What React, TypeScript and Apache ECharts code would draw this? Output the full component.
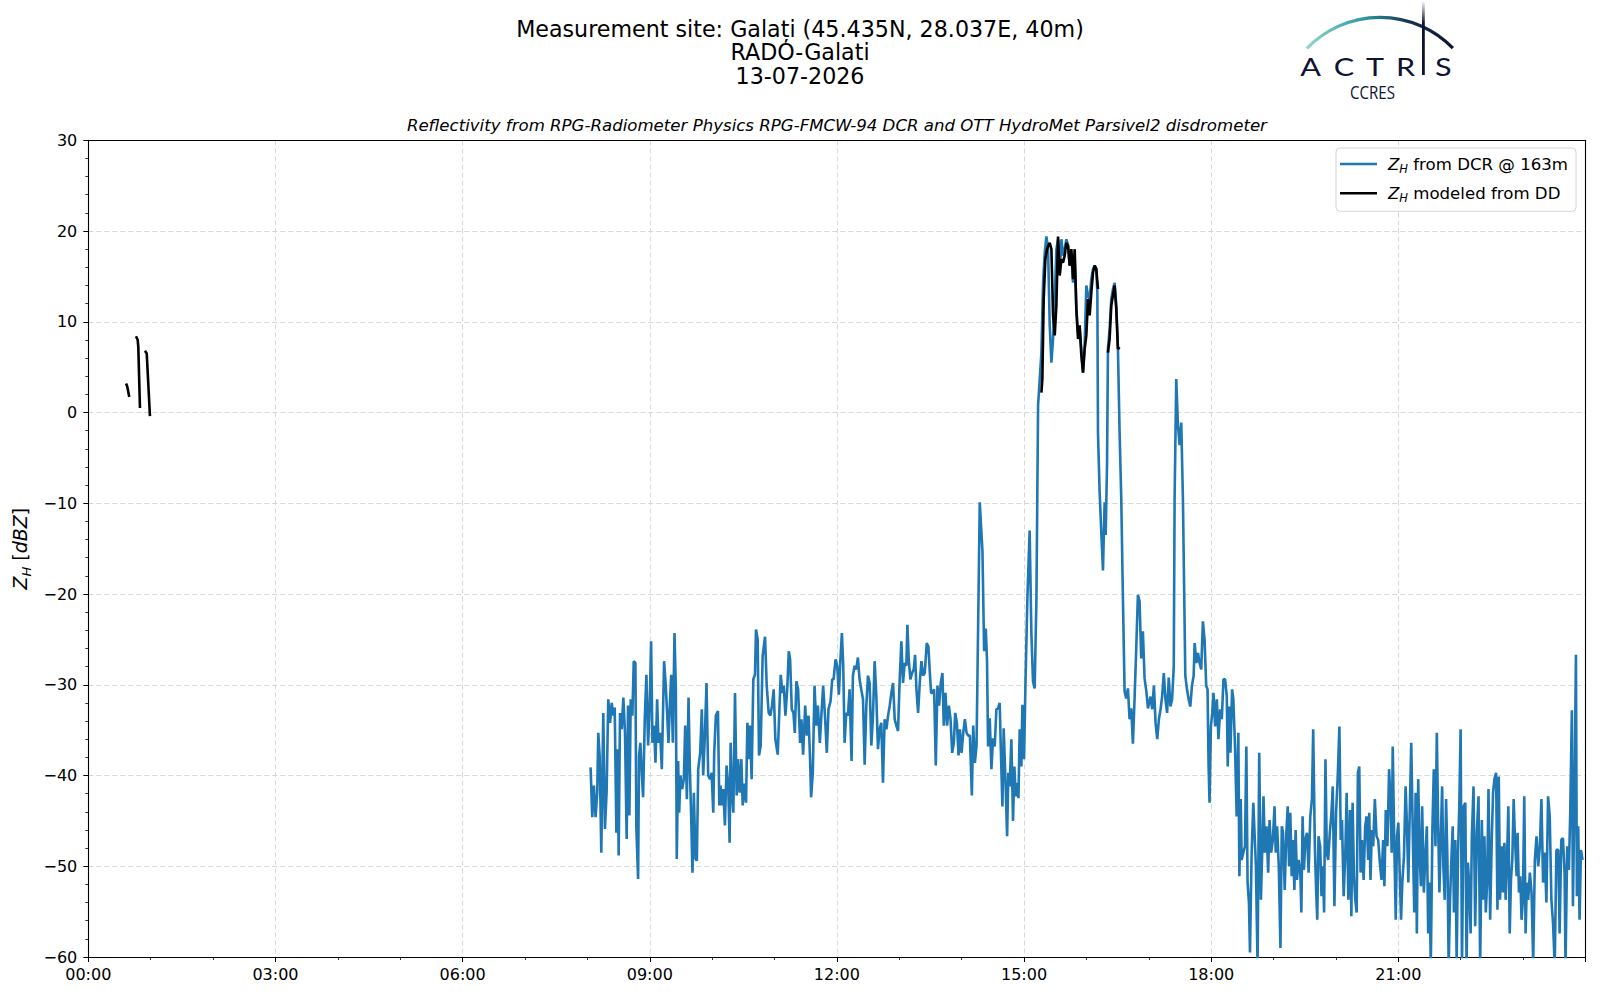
import React, { useEffect, useRef } from 'react';
import * as echarts from 'echarts';

// time in minutes of day, reflectivity in dBZ
const dcrMorning: [number, number][] = [
[483.1,-39.1],[484.7,-44.6],[486.3,-41.1],[487.9,-44.6],[489.5,-41.9],[490.5,-35.3],[491.8,-37.8],[493.4,-48.5],[495.3,-33.1],[496.9,-45.9],[498.5,-41.9],[500.1,-31.6],[501.8,-34.2],[503.4,-32.0],[505.0,-33.4],[506.3,-32.5],[507.9,-46.3],[509.1,-37.1],[510.1,-48.8],[511.4,-33.1],[513.0,-34.9],[514.6,-31.4],[516.2,-35.3],[517.8,-47.0],[519.1,-32.3],[520.4,-44.4],[521.7,-31.6],[523.3,-33.4],[524.6,-27.4],[526.2,-27.6],[527.1,-45.7],[528.8,-51.4],[529.7,-37.8],[531.0,-36.4],[532.3,-39.7],[533.6,-42.4],[535.2,-33.8],[536.8,-28.9],[538.4,-36.7],[540.0,-32.0],[541.3,-25.2],[542.6,-36.4],[544.2,-34.5],[545.5,-38.6],[547.1,-31.6],[548.4,-36.4],[550.0,-35.3],[551.6,-39.3],[553.8,-27.4],[555.4,-30.1],[556.7,-33.1],[558.0,-36.4],[559.3,-32.3],[560.6,-28.9],[562.2,-36.4],[563.8,-24.3],[565.1,-30.5],[566.0,-49.2],[567.3,-38.4],[568.3,-44.1],[569.6,-40.0],[571.2,-41.5],[572.8,-40.4],[574.1,-34.5],[575.7,-42.6],[577.3,-31.4],[578.6,-39.3],[579.9,-44.8],[581.1,-50.7],[582.4,-41.9],[584.0,-49.2],[585.3,-49.4],[586.6,-39.3],[588.5,-37.5],[590.1,-32.7],[591.4,-40.0],[593.0,-35.6],[594.6,-29.8],[596.2,-40.0],[597.9,-40.4],[599.5,-39.7],[601.1,-44.1],[602.0,-37.5],[603.6,-33.4],[605.6,-32.9],[606.9,-43.3],[608.1,-41.1],[609.4,-43.3],[610.7,-41.5],[612.3,-45.5],[613.9,-38.9],[615.5,-41.1],[616.8,-47.4],[617.8,-36.4],[619.1,-41.9],[620.4,-44.1],[622.0,-30.9],[623.6,-42.2],[624.9,-38.2],[626.5,-41.9],[628.1,-38.2],[629.4,-43.3],[631.0,-40.9],[632.6,-43.0],[633.9,-34.2],[635.1,-38.2],[636.4,-34.5],[638.0,-40.4],[639.6,-29.4],[641.2,-28.9],[642.2,-23.9],[643.8,-25.0],[645.1,-37.8],[646.7,-36.7],[648.6,-26.8],[650.9,-24.7],[652.5,-30.1],[654.4,-33.1],[656.0,-33.4],[657.6,-32.3],[659.2,-30.5],[660.8,-36.0],[663.1,-37.7],[664.7,-32.7],[666.0,-28.9],[667.6,-30.9],[668.9,-30.1],[670.5,-33.4],[672.4,-30.1],[673.7,-26.3],[675.0,-27.2],[676.6,-32.7],[678.2,-33.1],[679.5,-35.3],[681.1,-29.6],[682.7,-30.5],[684.6,-36.4],[685.9,-33.8],[687.5,-37.7],[689.5,-32.3],[691.1,-35.6],[692.7,-33.4],[694.3,-38.6],[695.2,-42.4],[696.8,-39.7],[698.5,-30.1],[700.1,-34.5],[701.7,-32.3],[703.6,-36.4],[705.2,-33.1],[706.8,-30.1],[708.7,-33.8],[710.3,-37.5],[711.9,-32.7],[713.9,-31.8],[715.5,-29.4],[716.8,-29.4],[718.7,-27.2],[720.3,-27.9],[721.9,-31.1],[723.2,-27.6],[724.8,-24.3],[726.1,-27.9],[727.4,-36.4],[729.0,-33.1],[730.6,-33.4],[732.2,-30.5],[734.1,-38.4],[735.4,-29.0],[737.0,-27.9],[738.6,-28.3],[740.2,-27.0],[741.8,-29.4],[743.4,-30.5],[745.1,-31.6],[746.7,-38.8],[748.3,-32.3],[749.9,-29.0],[751.5,-29.8],[753.1,-36.7],[754.7,-33.4],[756.3,-27.4],[757.9,-31.2],[759.5,-37.1],[761.1,-34.9],[762.7,-34.2],[764.3,-40.8],[765.9,-33.8],[767.6,-34.9],[769.2,-33.4],[770.8,-32.3],[772.4,-30.9],[774.0,-29.8],[775.6,-33.8],[777.2,-34.5],[778.8,-35.1],[780.4,-29.4],[782.0,-25.2],[783.6,-29.8],[785.2,-27.6],[786.8,-27.9],[787.8,-23.4],[789.1,-27.2],[790.7,-29.4],[792.3,-28.7],[793.9,-28.3],[795.2,-26.7],[796.5,-30.5],[798.1,-33.1],[799.7,-29.8],[801.3,-27.4],[802.9,-29.0],[804.5,-28.7],[806.4,-25.4],[808.0,-25.8],[809.3,-28.5],[810.6,-30.9],[811.9,-30.9],[813.5,-30.5],[815.1,-38.9],[816.7,-30.1],[818.3,-32.3],[819.9,-29.8],[821.5,-28.7],[822.8,-34.5],[824.4,-30.9],[826.0,-34.5],[827.7,-32.3],[829.3,-33.8],[830.9,-37.5],[832.5,-36.4],[833.8,-33.1],[835.4,-34.2],[837.0,-37.8],[838.3,-34.9],[839.9,-37.5],[841.5,-35.3],[843.1,-33.8],[844.7,-35.3],[846.3,-35.6],[847.9,-35.6],[849.8,-42.2],[851.1,-34.5],[852.7,-38.6],[854.3,-36.7]
];

const dcrAfternoon: [number, number][] = [
[857.4,-9.9],[860.0,-15.3],[861.6,-26.3],[863.2,-23.8],[864.4,-27.4],[865.4,-36.8],[867.0,-33.7],[868.6,-39.3],[870.2,-35.9],[871.8,-36.8],[873.4,-32.7],[875.0,-32.6],[876.6,-32.0],[877.6,-36.8],[879.2,-43.4],[880.4,-34.8],[882.4,-41.5],[883.7,-46.7],[884.9,-39.7],[886.2,-41.2],[887.8,-36.0],[889.4,-45.0],[890.7,-39.0],[892.0,-42.3],[893.3,-40.8],[894.6,-42.5],[895.8,-34.9],[897.4,-39.0],[898.4,-32.2],[900.0,-38.2],[901.3,-30.2],[903.2,-20.5],[905.4,-13.0],[907.0,-24.1],[908.6,-29.6],[910.2,-30.4],[911.9,-20.5],[913.5,0.8],[915.1,3.7],[916.7,6.6],[918.3,14.3],[919.9,17.6],[921.5,19.4],[923.1,18.0],[924.7,9.6],[926.3,5.5],[927.9,8.1],[929.5,12.5],[931.1,18.0],[932.7,19.1],[934.3,15.4],[935.9,19.1],[937.5,17.3],[939.1,18.0],[940.7,19.1],[942.3,18.4],[943.9,16.2],[945.5,17.6],[947.1,14.3],[948.7,17.3],[950.3,11.4],[951.9,8.8],[953.5,9.2],[955.1,7.0],[956.7,4.4],[958.3,7.4],[959.9,14.0],[961.5,12.9],[963.1,12.5],[964.7,14.7],[966.3,15.8],[967.9,16.2],[969.5,15.8],[970.5,13.2],[971.1,-2.2],[972.7,-8.8],[974.3,-13.2],[975.9,-17.4],[977.5,-9.9],[978.5,-13.5],[979.8,-5.8],[980.7,7.0],[982.3,9.2],[983.9,12.5],[985.5,13.6],[987.1,14.3],[988.7,11.8],[990.3,7.0],[991.9,-2.2],[993.5,-9.5],[995.1,-20.5],[996.7,-30.7],[998.3,-31.5],[999.9,-30.4],[1001.5,-33.8],[1003.1,-32.6],[1004.7,-36.5],[1006.3,-31.5],[1007.9,-26.0],[1009.5,-20.1],[1011.1,-20.8],[1012.7,-27.1],[1014.3,-24.1],[1015.9,-29.3],[1017.6,-30.7],[1019.2,-32.6],[1021.7,-31.3],[1023.3,-32.7],[1024.9,-30.1],[1026.5,-34.2],[1028.1,-36.0],[1029.7,-33.8],[1031.3,-32.7],[1032.8,-31.3],[1034.4,-28.7],[1036.0,-31.6],[1037.6,-33.1],[1039.2,-29.2],[1040.8,-32.4],[1042.4,-31.6],[1044.0,-28.0],[1044.8,-9.5],[1046.4,3.7],[1048.0,-1.4],[1049.6,-3.6],[1051.2,-1.1],[1052.8,-9.5]
];

const dcrEvening: [number, number][] = [
[1055.1,-29.0],[1056.7,-30.5],[1058.3,-31.6],[1059.9,-32.4],[1061.5,-30.1],[1063.1,-29.0],[1064.1,-25.4],[1065.7,-27.6],[1067.3,-26.5],[1068.8,-27.6],[1070.4,-28.3],[1072.0,-23.0],[1073.6,-25.0],[1075.2,-30.1],[1076.5,-30.5],[1077.5,-39.0],[1078.4,-43.0],[1079.7,-34.6],[1081.0,-33.1],[1082.2,-30.9],[1083.8,-34.6],[1085.4,-31.6],[1087.0,-36.0],[1088.6,-32.7],[1090.2,-33.8],[1091.8,-29.4],[1093.4,-29.4],[1095.0,-31.3],[1095.9,-39.0],[1097.2,-32.4],[1098.5,-37.5],[1100.1,-30.5],[1101.3,-31.6],[1102.9,-36.8],[1104.5,-44.5],[1106.1,-35.3],[1107.1,-51.1],[1108.4,-42.6],[1109.3,-49.3],[1110.9,-48.5],[1112.5,-47.8],[1113.8,-36.8],[1115.0,-51.8],[1116.3,-54.0],[1117.3,-59.5],[1118.9,-48.5],[1120.5,-43.0],[1121.7,-46.3],[1123.0,-50.0],[1124.6,-61.0],[1126.2,-37.5],[1127.8,-53.7],[1129.1,-48.2],[1130.3,-42.3],[1131.6,-48.5],[1133.2,-45.6],[1134.8,-50.7],[1136.1,-44.9],[1137.7,-48.5],[1139.3,-47.1],[1140.9,-43.4],[1142.1,-48.5],[1143.4,-45.6],[1145.0,-50.0],[1146.6,-59.0],[1147.9,-45.6],[1149.1,-46.3],[1150.7,-52.6],[1152.3,-46.3],[1153.6,-43.4],[1154.9,-50.0],[1156.1,-44.1],[1157.4,-51.1],[1158.7,-47.1],[1160.0,-52.6],[1161.2,-46.0],[1162.5,-51.5],[1164.1,-49.3],[1165.7,-50.7],[1166.7,-55.1],[1167.9,-44.5],[1169.2,-50.4],[1170.5,-47.1],[1172.1,-46.3],[1173.7,-50.7],[1175.3,-44.5],[1176.9,-42.6],[1178.1,-34.9],[1179.7,-47.8],[1181.0,-52.9],[1182.0,-55.9],[1183.2,-46.7],[1184.8,-47.8],[1186.1,-53.3],[1187.4,-50.0],[1188.6,-55.1],[1189.9,-38.2],[1191.2,-48.5],[1192.5,-49.3],[1194.1,-46.3],[1195.7,-44.1],[1196.9,-41.2],[1198.5,-54.4],[1200.1,-44.1],[1201.7,-40.1],[1203.3,-34.6],[1204.6,-47.1],[1205.8,-44.9],[1207.4,-53.3],[1209.0,-48.5],[1210.3,-41.9],[1211.9,-53.7],[1213.5,-43.8],[1214.8,-55.5],[1216.0,-43.0],[1217.3,-51.1],[1218.6,-53.7],[1219.9,-55.1],[1221.1,-39.7],[1222.4,-39.0],[1223.7,-50.7],[1225.0,-47.1],[1226.6,-51.5],[1228.1,-45.6],[1229.4,-44.5],[1231.0,-49.3],[1232.0,-44.1],[1233.2,-51.5],[1234.5,-46.0],[1235.8,-47.8],[1237.4,-42.6],[1239.0,-46.7],[1240.6,-47.1],[1242.2,-49.6],[1243.8,-51.5],[1245.4,-47.1],[1246.6,-52.2],[1247.9,-43.8],[1249.5,-47.8],[1251.1,-39.3],[1252.4,-42.6],[1253.6,-48.5],[1254.6,-36.8],[1255.9,-46.3],[1257.5,-55.9],[1258.7,-46.7],[1260.0,-45.2],[1261.3,-50.7],[1262.6,-55.9],[1263.8,-51.8],[1265.4,-48.9],[1267.0,-41.2],[1268.3,-45.6],[1269.6,-51.8],[1270.8,-44.9],[1272.4,-36.4],[1274.0,-47.1],[1275.3,-55.1],[1276.6,-41.9],[1277.8,-57.4],[1279.1,-40.4],[1280.4,-48.5],[1281.7,-52.2],[1282.9,-43.4],[1284.5,-52.9],[1286.1,-48.5],[1287.4,-45.6],[1288.7,-57.4],[1290.0,-51.8],[1291.2,-61.0],[1292.8,-45.6],[1294.1,-39.3],[1295.7,-47.8],[1297.0,-35.3],[1298.3,-45.6],[1299.5,-52.9],[1300.8,-47.1],[1302.1,-41.2],[1303.3,-50.0],[1304.6,-53.7],[1305.9,-42.6],[1307.2,-49.3],[1308.4,-61.0],[1309.7,-53.7],[1311.0,-49.3],[1312.3,-45.6],[1313.5,-55.1],[1314.8,-47.1],[1316.1,-60.5],[1317.4,-48.5],[1318.6,-43.4],[1319.9,-34.9],[1321.2,-61.0],[1322.8,-43.4],[1324.4,-43.0],[1325.6,-61.0],[1326.9,-49.6],[1328.2,-52.2],[1329.5,-57.4],[1330.7,-46.7],[1332.3,-41.2],[1333.9,-56.6],[1335.5,-46.3],[1337.1,-42.3],[1338.7,-61.0],[1340.3,-44.9],[1341.6,-53.7],[1342.8,-46.7],[1344.1,-55.1],[1345.4,-51.8],[1346.7,-41.5],[1348.3,-55.9],[1349.9,-46.7],[1351.1,-41.9],[1352.4,-40.4],[1354.0,-39.7],[1355.3,-54.8],[1356.6,-40.1],[1357.8,-53.7],[1359.4,-47.8],[1360.7,-52.9],[1362.0,-47.4],[1363.2,-53.7],[1364.5,-49.3],[1365.8,-43.4],[1367.1,-57.4],[1368.3,-51.5],[1369.6,-49.3],[1370.9,-42.6],[1372.2,-47.1],[1373.8,-51.1],[1374.7,-46.3],[1376.0,-52.9],[1377.3,-51.1],[1378.5,-55.9],[1379.8,-53.7],[1381.1,-42.3],[1382.4,-57.4],[1383.6,-51.8],[1384.9,-53.7],[1386.5,-50.7],[1388.1,-52.9],[1389.7,-60.5],[1391.3,-49.3],[1392.9,-46.7],[1394.5,-50.0],[1396.1,-47.8],[1397.6,-42.6],[1399.2,-51.8],[1400.8,-48.5],[1402.4,-54.0],[1404.0,-42.3],[1405.6,-44.5],[1407.2,-53.7],[1408.8,-56.3],[1410.4,-61.0],[1412.0,-48.2],[1413.8,-48.2],[1415.1,-57.4],[1416.7,-47.1],[1418.3,-46.9],[1419.9,-50.8],[1420.8,-61.0],[1422.4,-47.8],[1424.0,-50.4],[1425.3,-44.2],[1426.9,-32.8],[1427.9,-54.4],[1429.5,-41.2],[1430.8,-26.7],[1431.7,-53.3],[1433.0,-45.6],[1434.3,-55.9],[1435.6,-48.2],[1437.2,-49.3]
];

// disdrometer-modelled reflectivity; null marks a gap
const ddEarly: [number, number | null][] = [
[36.3,3.2],[37.4,2.9],[39.4,1.7],[42.0,null],
[45.9,8.4],[47.5,8.0],[48.1,7.2],[49.7,0.5],[52.0,null],
[54.5,6.8],[56.2,6.5],[59.3,-0.4],[200,null]
];

const ddMain: [number, number | null][] = [
[916.7,2.2],[917.6,3.7],[918.9,12.5],[920.5,16.9],[922.1,18.0],[923.4,18.4],[924.7,18.7],[926.3,18.0],[927.9,10.7],[929.5,8.5],[931.1,11.8],[932.7,19.4],[934.3,15.1],[935.9,16.9],[937.5,16.5],[939.1,17.3],[940.7,18.7],[942.3,18.4],[943.9,16.2],[945.5,18.0],[947.1,14.7],[948.7,18.0],[950.3,11.4],[951.9,8.1],[953.5,9.6],[955.1,6.3],[956.7,4.4],[958.3,7.0],[959.9,8.5],[961.5,12.5],[963.1,10.7],[964.7,13.2],[966.3,15.4],[967.9,16.2],[969.5,15.8],[971.1,13.6],[976.0,null],
[980.7,6.6],[982.3,8.1],[983.9,11.8],[985.5,12.9],[987.1,14.0],[988.7,11.4],[990.3,7.0],[991.9,7.2]
];

const xTickLabels = ['00:00', '03:00', '06:00', '09:00', '12:00', '15:00', '18:00', '21:00'];
const titleLines = ['Measurement site: Galați (45.435N, 28.037E, 40m)', 'RADO-Galati', '13-07-2026'];
const subTitle = 'Reflectivity from RPG-Radiometer Physics RPG-FMCW-94 DCR and OTT HydroMet Parsivel2 disdrometer';

const FONT = 'DejaVu Sans';
const NAVY = '#0d1333';

function buildOption() {
  const dcr = [...dcrMorning, ...dcrAfternoon, ...dcrEvening];
  const dd = [...ddEarly, ...ddMain].map(([t, v]) => [t, v === null ? '-' : v]);

  const LF = 16.6;
  const richZ = {
    z: { fontStyle: 'italic', fontSize: LF, fontFamily: FONT, color: '#000', lineHeight: 22 },
    h: { fontStyle: 'italic', fontSize: 11.5, fontFamily: FONT, color: '#000', lineHeight: 11, verticalAlign: 'bottom' },
    t: { fontSize: LF, fontFamily: FONT, color: '#000', lineHeight: 22 },
    sp: { width: 6, fontSize: LF, lineHeight: 22 },
  };

  const logoLetters = [
    { ch: 'A', x: 1310.7 },
    { ch: 'C', x: 1344 },
    { ch: 'T', x: 1375 },
    { ch: 'R', x: 1405.5 },
    { ch: 'S', x: 1443.3 },
  ];

  const graphic: any[] = [
    ...titleLines.map((t, i) => ({
      type: 'text', x: 800, y: [28.6, 52, 75.5][i], silent: true,
      style: { text: t, fill: '#000', fontSize: 22.2, fontFamily: FONT, align: 'center', verticalAlign: 'middle' },
    })),
    {
      type: 'text', x: 836.9, y: 125.5, silent: true,
      style: { text: subTitle, fill: '#000', fontSize: 16.6, fontStyle: 'italic', fontFamily: FONT, align: 'center', verticalAlign: 'middle' },
    },
    {
      type: 'arc', silent: true,
      shape: { cx: 1380, cy: 118.8, r: 101.5, startAngle: -2.375, endAngle: -0.77, clockwise: true },
      style: {
        fill: 'none', lineWidth: 3.2,
        stroke: new echarts.graphic.LinearGradient(0, 0, 1, 0, [
          { offset: 0, color: '#8fd6cf' },
          { offset: 0.4, color: '#2a96a0' },
          { offset: 0.7, color: '#163150' },
          { offset: 1, color: NAVY },
        ]),
      },
    },
    {
      type: 'rect', silent: true,
      shape: { x: 1422, y: 1, width: 2.8, height: 74 },
      style: {
        fill: new echarts.graphic.LinearGradient(0, 0, 0, 1, [
          { offset: 0, color: 'rgba(13,19,51,0)' },
          { offset: 0.3, color: NAVY },
          { offset: 1, color: NAVY },
        ]),
      },
    },
    ...logoLetters.map((l) => ({
      type: 'text', x: l.x, y: 66.3, scaleX: 1.2, silent: true,
      style: { text: l.ch, fill: NAVY, fontSize: 25.5, fontWeight: 'normal', fontFamily: 'Lato', align: 'center', verticalAlign: 'middle' },
    })),
    {
      type: 'text', x: 1372.5, y: 92.4, scaleX: 0.86, silent: true,
      style: { text: 'CCRES', fill: NAVY, fontSize: 17.5, fontFamily: 'Open Sans', align: 'center', verticalAlign: 'middle' },
    },
  ];

  const splitLine = { show: true, lineStyle: { color: '#d2d2d2', type: [5, 3], width: 0.9 } };
  const frameLine = { show: true, onZero: false, lineStyle: { color: '#000', width: 1.1 } };

  return {
    animation: false,
    backgroundColor: '#ffffff',
    grid: { left: 88.3, top: 140.3, right: 14.5, bottom: 43, containLabel: false },
    legend: {
      left: 1336, top: 148, orient: 'vertical',
      icon: 'rect', itemWidth: 37, itemHeight: 2.5, itemGap: 7.3,
      padding: [5, 8, 7, 4],
      borderColor: '#d5d5d5', borderWidth: 1, borderRadius: 4,
      backgroundColor: 'rgba(255,255,255,0.8)',
      textStyle: { fontSize: LF, fontFamily: FONT, color: '#000', lineHeight: 22, rich: richZ },
      formatter: (name: string) =>
        name === 'dcr'
          ? '{sp| }{z|Z}{h|H}{t| from DCR @ 163m}'
          : '{sp| }{z|Z}{h|H}{t| modeled from DD}',
      data: ['dcr', 'dd'],
    },
    xAxis: [
      {
        type: 'value', min: 0, max: 1440, interval: 180, position: 'bottom',
        axisLine: frameLine,
        axisTick: { show: true, length: 5, lineStyle: { color: '#000', width: 1 } },
        minorTick: { show: true, splitNumber: 3, length: 3, lineStyle: { color: '#000', width: 0.8 } },
        splitLine,
        minorSplitLine: { show: false },
        axisLabel: {
          show: true, margin: 9, color: '#000', fontSize: 16, fontFamily: FONT, showMaxLabel: false,
          formatter: (v: number) => (v >= 1440 ? '' : xTickLabels[Math.round(v / 180)] ?? ''),
        },
      },
      {
        type: 'value', min: 0, max: 1440, position: 'top',
        axisLine: frameLine, axisTick: { show: false }, axisLabel: { show: false },
        splitLine: { show: false },
      },
    ],
    yAxis: [
      {
        type: 'value', min: -60, max: 30, interval: 10, position: 'left',
        name: '{z|Z}{h|H}{t| [}{z|dBZ}{t|]}',
        nameLocation: 'middle', nameRotate: 90, nameGap: 53,
        nameTextStyle: {
          color: '#000', fontSize: 19, fontFamily: FONT,
          rich: {
            z: { fontStyle: 'italic', fontSize: 19, fontFamily: FONT, color: '#000', lineHeight: 25 },
            h: { fontStyle: 'italic', fontSize: 13, fontFamily: FONT, color: '#000', lineHeight: 12, verticalAlign: 'bottom' },
            t: { fontSize: 19, fontFamily: FONT, color: '#000', lineHeight: 25 },
          },
        },
        axisLine: frameLine,
        axisTick: { show: true, length: 5, lineStyle: { color: '#000', width: 1 } },
        minorTick: { show: true, splitNumber: 5, length: 3, lineStyle: { color: '#000', width: 0.8 } },
        splitLine,
        minorSplitLine: { show: false },
        axisLabel: {
          margin: 11, color: '#000', fontSize: 16, fontFamily: FONT,
          formatter: (v: number) => (v < 0 ? '\u2212' + Math.abs(v) : String(v)),
        },
      },
      {
        type: 'value', min: -60, max: 30, position: 'right',
        axisLine: frameLine, axisTick: { show: false }, axisLabel: { show: false },
        splitLine: { show: false },
      },
    ],
    series: [
      {
        name: 'dcr', type: 'line', data: dcr, symbol: 'none', showSymbol: false,
        xAxisIndex: 0, yAxisIndex: 0,
        lineStyle: { color: '#1f77b4', width: 2.6 }, itemStyle: { color: '#1f77b4' },
        clip: true, z: 2,
      },
      {
        name: 'dd', type: 'line', data: dd, symbol: 'none', showSymbol: false, connectNulls: false,
        xAxisIndex: 0, yAxisIndex: 0,
        lineStyle: { color: '#000000', width: 2.6 }, itemStyle: { color: '#000000' },
        clip: true, z: 3,
      },
    ],
    graphic,
  };
}

export default function App() {
  const ref = useRef<HTMLDivElement>(null);
  useEffect(() => {
    if (!ref.current) return;
    const chart = echarts.init(ref.current, null, { renderer: 'svg' });
    chart.setOption(buildOption() as any);
    return () => chart.dispose();
  }, []);
  return (
    <div
      ref={ref}
      style={{ position: 'fixed', left: 0, top: 0, width: 1600, height: 1000, background: '#fff' }}
    />
  );
}
